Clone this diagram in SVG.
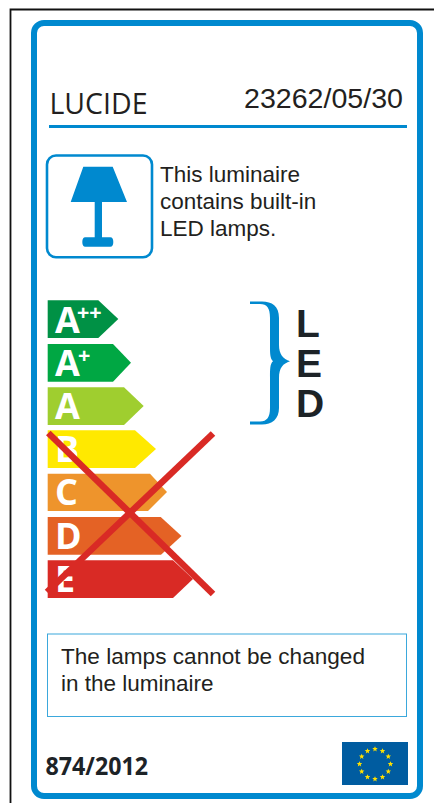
<svg xmlns="http://www.w3.org/2000/svg" xmlns:xlink="http://www.w3.org/1999/xlink" width="434" height="803" viewBox="0 0 434 803">
<style>
.os{font-family:"Open Sans","Liberation Sans",sans-serif}
.ls{font-family:"Liberation Sans",Arial,sans-serif;fill:#231f20}
.bl{fill:#0089cf}
.cls{font-family:"Open Sans","Liberation Sans",sans-serif;font-weight:700;fill:#fff}
.sup{font-family:"Liberation Sans",Arial,sans-serif;font-weight:700;fill:#fff}
.x{stroke:#d92a25;stroke-width:6.500;fill:none}
.star{fill:#ffe000}
</style>
<defs><polygon id="s" points="0,-2.8 .8,-.9 2.7,-.9 1.2,.4 1.7,2.4 0,1.3 -1.7,2.4 -1.2,.4 -2.7,-.9 -.8,-.9"/></defs>
<rect width="434" height="803" fill="#fff"/>
<path d="M10.500 803V9.500H434" fill="none" stroke="#111" stroke-width="1.800"/>
<g id="frame"><rect x="34" y="23" width="386" height="773" rx="10" fill="#fff" stroke="#0089cf" stroke-width="6"/></g>
<g id="header">
<text class="os" x="49.500" y="114" font-size="30" fill="#231f20" textLength="98" lengthAdjust="spacingAndGlyphs">LUCIDE</text>
<text class="ls" x="244" y="108.300" font-size="28.400" textLength="159" lengthAdjust="spacingAndGlyphs">23262/05/30</text>
<rect class="bl" x="49" y="125" width="358" height="3"/>
</g>
<g id="lamp-icon">
<rect x="47" y="155.500" width="105" height="101.700" rx="9" fill="none" stroke="#0089cf" stroke-width="2.600"/>
<path class="bl" d="M83.300 166.700H112.700L127 202H102V237.300H110.300Q113.300 237.300 113.300 242T110.300 246.700H85.300Q82.300 246.700 82.300 242T85.300 237.300H94.700V202H70.700Z"/>
</g>
<g id="lamp-text" class="ls" font-size="22.500">
<text x="160" y="181.700">This luminaire</text>
<text x="160" y="208.700">contains built-in</text>
<text x="160" y="235.700">LED lamps.</text>
</g>
<g id="class-a-plus-plus"><path fill="#009145" d="M47.700 300.300H98.300L118.300 319L98.300 338H47.700Z"/><text class="cls" x="55" y="332.500" font-size="36">A</text><text class="sup" x="77" y="320" font-size="21">++</text></g>
<g id="class-a-plus"><path fill="#00a743" d="M47.700 344H113L131 362.700L113 381.700H47.700Z"/><text class="cls" x="55" y="376" font-size="36">A</text><text class="sup" x="78" y="363" font-size="21">+</text></g>
<g id="class-a"><path fill="#9fce2f" d="M47.700 387.300H124L143.700 406L124 425H47.700Z"/><text class="cls" x="55" y="419" font-size="36">A</text></g>
<g id="class-b"><path fill="#ffe900" d="M47.700 430.300H135L156 449L135 468H47.700Z"/><text class="cls" x="55" y="462" font-size="36">B</text></g>
<g id="class-c"><path fill="#ee942c" d="M47.700 473.700H150L167 492L148 511H47.700Z"/><text class="cls" x="55" y="505" font-size="36">C</text></g>
<g id="class-d"><path fill="#e46225" d="M47.700 517H160.700L181.500 536L161 554.700H47.700Z"/><text class="cls" x="55" y="548.500" font-size="36">D</text></g>
<g id="class-e"><path fill="#d92a25" d="M47.700 560.300H173L193 579L173 598H47.700Z"/><text class="cls" x="55" y="591.500" font-size="36">E</text></g>
<g id="connectors">
<path class="x" d="M48.300 433L213 594"/>
<path class="x" d="M213 433.500L47 592"/>
</g>
<g id="led-brace"><path class="bl" d="M250 301.500H262C272 301.500 279 306 279 318V345C279 354 283 359 290 361.300C283 363.500 279 368 279 378V408C279 419 272 424.500 262 424.500H250V421.500H260C267 421.500 270 417 270 408V378C270 369 270 364 273 361.300C270 358 270 354 270 345V318C270 308 267 304 260 304H250Z"/></g>
<g id="led-letters" font-family="'Liberation Sans',Arial,sans-serif" font-size="39" font-weight="700" fill="#1d2327">
<text x="296" y="337">L</text>
<text x="296" y="377">E</text>
<text x="296" y="417">D</text>
</g>
<g id="note"><rect x="47.500" y="634" width="359" height="82.500" fill="#fff" stroke="#3ba8dc" stroke-width="1"/>
<g class="ls" font-size="22.500"><text x="61" y="664.300" textLength="304" lengthAdjust="spacingAndGlyphs">The lamps cannot be changed</text><text x="61" y="690.700">in the luminaire</text></g></g>
<g id="regulation"><text class="os" x="45.500" y="775" font-size="25" font-weight="700" fill="#1d2327" textLength="102.500" lengthAdjust="spacingAndGlyphs">874/2012</text></g>
<g id="eu-flag"><rect x="342" y="742" width="66" height="43" fill="#005ca0"/>
<g class="star">
<use xlink:href="#s" x="375" y="749"/><use xlink:href="#s" x="382.500" y="751"/><use xlink:href="#s" x="388.300" y="756.500"/><use xlink:href="#s" x="390.500" y="764"/><use xlink:href="#s" x="388.300" y="771.500"/><use xlink:href="#s" x="382.500" y="777"/><use xlink:href="#s" x="375" y="779"/><use xlink:href="#s" x="367.500" y="777"/><use xlink:href="#s" x="361.700" y="771.500"/><use xlink:href="#s" x="359.500" y="764"/><use xlink:href="#s" x="361.700" y="756.500"/><use xlink:href="#s" x="367.500" y="751"/>
</g></g>
</svg>
